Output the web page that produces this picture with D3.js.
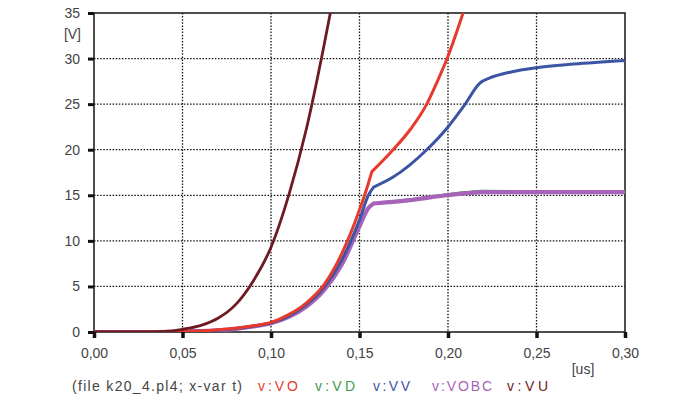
<!DOCTYPE html>
<html><head><meta charset="utf-8">
<script src="https://cdn.jsdelivr.net/npm/d3@7"></script>
<style>body{margin:0;background:#fff}svg{display:block}text{font-family:"Liberation Sans",Arial,sans-serif}</style>
</head><body><svg id="c" width="700" height="398"></svg>
<script>
const xTicks = [0, 0.05, 0.10, 0.15, 0.20, 0.25, 0.30];
const xTickLabels = ["0,00","0,05","0,10","0,15","0,20","0,25","0,30"];
const yTicks = [0, 5, 10, 15, 20, 25, 30, 35];

// kink index marks where the waveform bends sharply (curve is split there)
const tVO = [0,0.03,0.05,0.06,0.07,0.08,0.09,0.10,0.11,0.12,0.13,0.14,0.15,0.155,0.157,0.169,0.179,0.188,0.194,0.1995,0.2085];
const vVO = [0,0,0.05,0.12,0.25,0.42,0.68,1.05,1.9,3.2,5.2,8.6,13.4,16.3,17.6,20,22.3,25,27.5,30,35];
const kVO = 14;

const tVV = [0,0.03,0.05,0.06,0.07,0.08,0.09,0.10,0.11,0.12,0.13,0.14,0.15,0.155,0.158,0.169,0.188,0.2,0.209,0.218,0.224,0.235,0.25,0.271,0.30];
const vVV = [0,0,0.05,0.1,0.2,0.38,0.64,1.0,1.75,3.0,4.9,7.9,12.3,15.0,15.9,17,20,22.5,24.8,27.3,27.9,28.5,29,29.4,29.8];
const kVV = 14;

const tVOBC = [0,0.03,0.05,0.06,0.07,0.08,0.09,0.10,0.11,0.12,0.13,0.14,0.15,0.155,0.158,0.18,0.199,0.21,0.22,0.25,0.30];
const vVOBC = [0,0,0.05,0.1,0.19,0.35,0.6,0.95,1.65,2.8,4.6,7.4,11.6,13.6,14.1,14.5,15.0,15.2,15.35,15.35,15.35];
const kVOBC = 14;

const tVD = tVOBC;
const vVD = [0,0,0.05,0.1,0.19,0.35,0.6,0.95,1.65,2.8,4.6,7.4,11.6,13.6,14.1,14.55,15.05,15.3,15.45,15.4,15.4];
const kVD = 14;

const tVU = [0,0.03,0.04,0.05,0.06,0.07,0.08,0.09,0.10,0.11,0.12,0.13,0.1335];
const vVU = [0,0,0.06,0.3,0.7,1.5,3.0,5.6,9.3,15,22.3,31.5,35];
const kVU = tVU.length - 1;

const seriesNames = ["v:VO","v:VD","v:VV","v:VOBC","v:VU"];
const seriesColors = ["#e8392d","#3f9a4e","#3b54a3","#a763b8","#6e1a22"];

const svg = d3.select("#c");
const x = d3.scaleLinear().domain([0,0.30]).range([94,625]);
const y = d3.scaleLinear().domain([0,35]).range([332,13]);

// grid
svg.append("g").selectAll("line").data(xTicks.slice(1,-1)).join("line")
  .attr("x1",d=>x(d)).attr("x2",d=>x(d)).attr("y1",y(35)).attr("y2",y(0))
  .attr("stroke","#111").attr("stroke-width",1.3).attr("stroke-dasharray","1.5 1.6");
svg.append("g").selectAll("line").data(yTicks.slice(1,-1)).join("line")
  .attr("y1",d=>y(d)).attr("y2",d=>y(d)).attr("x1",x(0)).attr("x2",x(0.30))
  .attr("stroke","#111").attr("stroke-width",1.3).attr("stroke-dasharray","1.5 1.6");

// frame
svg.append("rect").attr("x",x(0)).attr("y",y(35)).attr("width",x(0.30)-x(0)).attr("height",y(0)-y(35))
  .attr("fill","none").attr("stroke","#222").attr("stroke-width",1.6);

// axes
const yAxis = d3.axisLeft(y).tickValues(yTicks).tickSize(6).tickPadding(8).tickFormat(d3.format("d"));
const gy = svg.append("g").attr("transform",`translate(${x(0)},0)`).call(yAxis);
gy.select(".domain").remove();
gy.selectAll(".tick line").attr("stroke","#111").attr("stroke-width",3);
gy.selectAll(".tick text").attr("font-size",14).attr("fill","#444").attr("font-family","Liberation Sans, Arial, sans-serif");

const xAxis = d3.axisBottom(x).tickValues(xTicks).tickSize(6).tickPadding(10).tickFormat((d,i)=>xTickLabels[i]);
const gx = svg.append("g").attr("transform",`translate(0,${y(0)})`).call(xAxis);
gx.select(".domain").remove();
gx.selectAll(".tick line").attr("stroke","#111").attr("stroke-width",3.5);
gx.selectAll(".tick text").attr("font-size",14).attr("fill","#444").attr("font-family","Liberation Sans, Arial, sans-serif");

svg.append("text").attr("x",81).attr("y",39).attr("text-anchor","end").attr("font-size",14).attr("fill","#444").text("[V]");
svg.append("text").attr("x",583).attr("y",374).attr("text-anchor","middle").attr("font-size",14).attr("fill","#444").text("[us]");

// clip
svg.append("clipPath").attr("id","pc").append("rect")
  .attr("x",x(0)).attr("y",y(35)).attr("width",x(0.30)-x(0)).attr("height",y(0)-y(35));

const line = d3.line().x(d=>x(d[0])).y(d=>y(d[1])).curve(d3.curveMonotoneX);
const zip = (t,v)=>t.map((d,i)=>[d,v[i]]);
const plotG = svg.append("g").attr("clip-path","url(#pc)");
const draw = [
  {d:zip(tVD,vVD), k:kVD, c:seriesColors[1], w:3},
  {d:zip(tVOBC,vVOBC), k:kVOBC, c:seriesColors[3], w:4.2},
  {d:zip(tVV,vVV), k:kVV, c:seriesColors[2], w:3},
  {d:zip(tVO,vVO), k:kVO, c:seriesColors[0], w:3},
  {d:zip(tVU,vVU), k:kVU, c:seriesColors[4], w:2.8}
];
draw.forEach(s=>{
  const parts = [s.d.slice(0, s.k+1), s.d.slice(s.k)].filter(p=>p.length>1);
  const dstr = parts.map(p=>line(p)).join("");
  plotG.append("path").attr("d",dstr).attr("fill","none").attr("stroke",s.c)
    .attr("stroke-width",s.w).attr("stroke-linejoin","round").attr("stroke-linecap","round");
});

// legend
svg.append("text").attr("x",72).attr("y",391).attr("font-size",14).attr("fill","#444")
  .attr("textLength",170).text("(file k20_4.pl4; x-var t)");
const legX = [258,315,373,432,507];
const legW = [40,40,37,60,41];
seriesNames.forEach((n,i)=>{
  svg.append("text").attr("x",legX[i]).attr("y",391).attr("font-size",14).attr("fill",seriesColors[i])
    .attr("textLength",legW[i]).text(n);
});
</script></body></html>
